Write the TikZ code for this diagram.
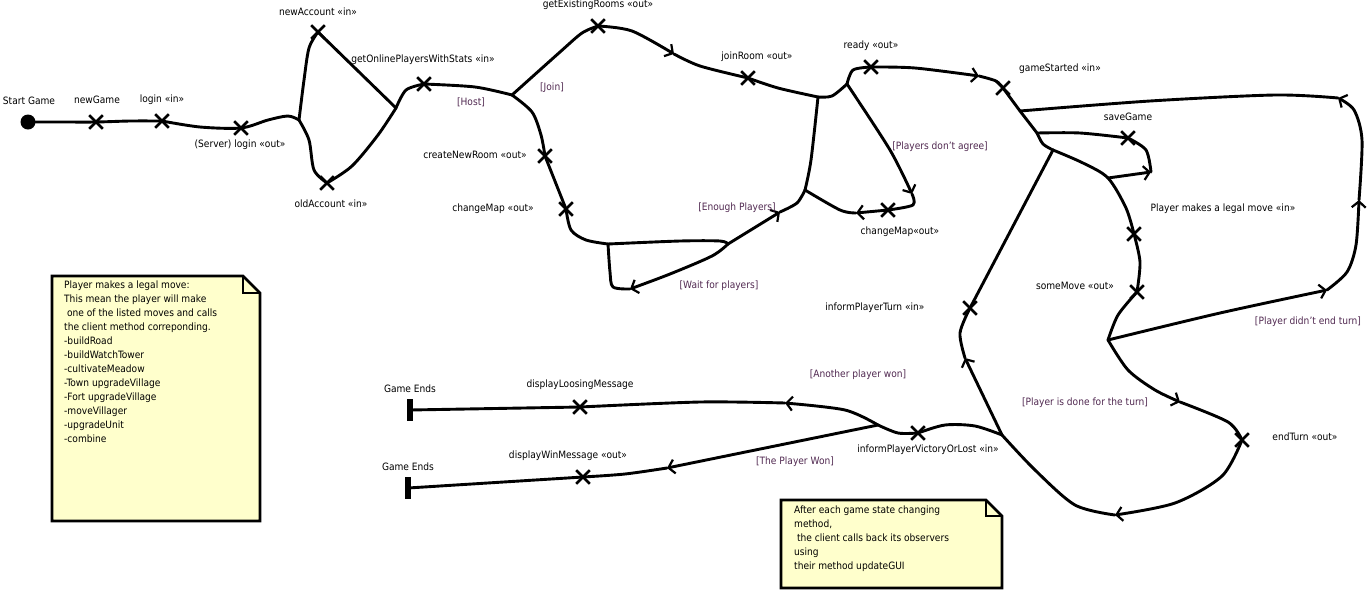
\documentclass[tikz,border=0pt]{standalone}
\usepackage{fontspec}
\setmainfont{DejaVu Sans Condensed}
\usetikzlibrary{arrows.meta,shapes.misc}
\definecolor{guardcol}{RGB}{80,40,80}
\definecolor{notecol}{RGB}{255,255,204}
\tikzset{
  flow/.style={line width=2.9pt, line join=round, line cap=round},
  arr/.style={flow, -{Straight Barb[length=6pt,width=14pt,line width=2.2pt]}},
  crossmark/.style={draw, cross out, line width=2.6pt, minimum size=11pt, inner sep=0pt},
  method/.style={font=\fontsize{10.1}{12}\selectfont, inner sep=0pt},
  guard/.style={method, text=guardcol},
  note/.style={draw, line width=2.6pt, fill=notecol},
  notetext/.style={align=left, anchor=north west, inner sep=0pt, font=\fontsize{10.1}{14}\selectfont}
}
\begin{document}
\begin{tikzpicture}[x=1pt,y=-1pt]
\useasboundingbox (0,0) rectangle (1370,590);
% points of the flow
\coordinate (start) at (28,122);
\coordinate (newGame) at (96,122);
\coordinate (login) at (162,121);
\coordinate (srvLogin) at (241,128);
\coordinate (j1) at (299,120);
\coordinate (newAcc) at (318,32);
\coordinate (oldAcc) at (327,183);
\coordinate (j2) at (396,108);
\coordinate (onlinePl) at (424,84);
\coordinate (j3) at (512,95);
\coordinate (newRoom) at (545,156);
\coordinate (mapHost) at (566,209);
\coordinate (lowL) at (608,244);
\coordinate (lowR) at (728,244);
\coordinate (arrWait) at (630,289);
\coordinate (arrEnough) at (780,212);
\coordinate (j5) at (805,190);
\coordinate (exRooms) at (598,26);
\coordinate (arrJoin) at (674,54);
\coordinate (joinRoom) at (748,78);
\coordinate (j4) at (818,97);
\coordinate (j4b) at (847,84);
\coordinate (ready) at (871,67);
\coordinate (arrStart) at (979,76);
\coordinate (gameStarted) at (1003,88);
\coordinate (arrAgree) at (912,194);
\coordinate (mapAgree) at (888,210);
\coordinate (arrMapAgree) at (856,213);
\coordinate (j7) at (1020,111);
\coordinate (j8) at (1037,133);
\coordinate (j9) at (1053,150);
\coordinate (j10) at (1108,178);
\coordinate (saveGame) at (1128,138);
\coordinate (arrSave) at (1151,172);
\coordinate (legalMove) at (1134,234);
\coordinate (someMove) at (1137,292);
\coordinate (j11) at (1108,340);
\coordinate (arrRight) at (1327,290);
\coordinate (arrUp) at (1359,200);
\coordinate (arrLeft) at (1338,98);
\coordinate (arrDone) at (1180,402);
\coordinate (endTurn) at (1242,440);
\coordinate (arrBottom) at (1115,515);
\coordinate (j12) at (1002,435);
\coordinate (arrTurn) at (965,358);
\coordinate (informTurn) at (970,308);
\coordinate (informVic) at (918,433);
\coordinate (j13) at (878,425);
\coordinate (arrLost) at (785,403);
\coordinate (lostMsg) at (580,407);
\coordinate (endLost) at (410,410);
\coordinate (arrWon) at (667,468);
\coordinate (wonMsg) at (583,477);
\coordinate (endWon) at (408,488);

% login and lobby
\draw[flow] plot[smooth] coordinates {(start) (60,122) (newGame) (130,121) (login)};
\draw[flow] plot[smooth] coordinates {(login) (200,127) (srvLogin) (268,120) (288,116) (j1)};
\draw[flow] plot[smooth] coordinates {(j1) (304,80) (309,48) (newAcc)};
\draw[flow] (newAcc) -- (j2);
\draw[flow] plot[smooth] coordinates {(j1) (309,140) (314,170) (oldAcc)};
\draw[flow] plot[smooth] coordinates {(oldAcc) (352,166) (378,135) (j2)};
\draw[flow] plot[smooth] coordinates {(j2) (406,90) (onlinePl)};
\draw[flow] plot[smooth] coordinates {(onlinePl) (475,87) (j3)};
\draw[flow] plot[smooth] coordinates {(j3) (532,112) (541,135) (newRoom)};
\draw[flow] (newRoom) -- (mapHost);
\draw[flow] plot[smooth] coordinates {(mapHost) (571,230) (586,240) (lowL)};
\draw[flow] plot[smooth] coordinates {(lowL) (680,241) (720,241) (lowR)};
\draw[arr] plot[smooth] coordinates {(lowR) (712,256) (670,274) (arrWait)};
\draw[flow] plot[smooth] coordinates {(arrWait) (613,287) (610,272) (lowL)};
\draw[arr] (lowR) -- (arrEnough);
\draw[flow] plot[smooth] coordinates {(arrEnough) (797,203) (j5)};
\draw[flow] plot[smooth] coordinates {(j4) (811,160) (j5)};
\draw[flow] plot[smooth] coordinates {(j3) (560,52) (582,33) (exRooms)};
\draw[arr] plot[smooth] coordinates {(exRooms) (632,31) (arrJoin)};
\draw[flow] plot[smooth] coordinates {(arrJoin) (700,66) (joinRoom)};
\draw[flow] plot[smooth] coordinates {(joinRoom) (778,88) (j4)};
\draw[flow] plot[smooth] coordinates {(j4) (832,96) (j4b)};
\draw[flow] plot[smooth] coordinates {(j4b) (853,70) (ready)};
\draw[arr] plot[smooth] coordinates {(ready) (915,68) (arrStart)};
\draw[flow] plot[smooth] coordinates {(arrStart) (996,81) (gameStarted)};
\draw[arr] plot[smooth] coordinates {(j4b) (890,150) (arrAgree)};
\draw[flow] plot[smooth] coordinates {(arrAgree) (913,205) (mapAgree)};
\draw[arr] (mapAgree) -- (arrMapAgree);
\draw[flow] plot[smooth] coordinates {(arrMapAgree) (840,210) (j5)};

% game loop
\draw[flow] (gameStarted) -- (j7) -- (j8);
\draw[flow] plot[smooth] coordinates {(j8) (1043,144) (j9)};
\draw[flow] plot[smooth] coordinates {(j9) (1083,163) (j10) (1126,208) (legalMove)};
\draw[flow] plot[smooth] coordinates {(legalMove) (1140,262) (someMove)};
\draw[flow] plot[smooth] coordinates {(someMove) (1118,315) (j11)};
\draw[arr] plot[smooth] coordinates {(j11) (1220,313) (arrRight)};
\draw[arr] plot[smooth] coordinates {(arrRight) (1347,272) (1356,245) (arrUp)};
\draw[arr] plot[smooth] coordinates {(arrUp) (1362,140) (1354,110) (arrLeft)};
\draw[flow] plot[smooth] coordinates {(arrLeft) (1275,95) (1150,101) (j7)};
\draw[flow] plot[smooth] coordinates {(j8) (1080,133) (saveGame)};
\draw[flow] plot[smooth] coordinates {(saveGame) (1146,150) (arrSave)};
\draw[arr] (j10) -- (arrSave);
\draw[arr] plot[smooth] coordinates {(j11) (1128,370) (1155,390) (arrDone)};
\draw[flow] plot[smooth] coordinates {(arrDone) (1228,422) (endTurn)};
\draw[arr] plot[smooth] coordinates {(endTurn) (1222,476) (1175,503) (arrBottom)};
\draw[flow] plot[smooth] coordinates {(arrBottom) (1075,505) (1035,470) (j12)};
\draw[flow] plot[smooth] coordinates {(j12) (975,426) (945,425) (informVic)};
\draw[arr] (j12) -- (arrTurn);
\draw[flow] plot[smooth] coordinates {(arrTurn) (960,333) (informTurn)};
\draw[flow] (informTurn) -- (j9);

% end of game
\draw[flow] plot[smooth] coordinates {(informVic) (898,433) (j13)};
\draw[arr] plot[smooth] coordinates {(j13) (845,410) (arrLost)};
\draw[flow] plot[smooth] coordinates {(arrLost) (700,402) (lostMsg)};
\draw[flow] (lostMsg) -- (endLost);
\draw[arr] (j13) -- (arrWon);
\draw[flow] plot[smooth] coordinates {(arrWon) (625,474) (wonMsg)};
\draw[flow] (wonMsg) -- (endWon);

% states
\node[fill, circle, minimum size=15pt, inner sep=0pt] (startDot) at (start) {};
\node[fill, minimum width=6pt, minimum height=22pt, inner sep=0pt] (barLost) at (endLost) {};
\node[fill, minimum width=6pt, minimum height=22pt, inner sep=0pt] (barWon) at (endWon) {};
\foreach \p in {newGame,login,srvLogin,newAcc,oldAcc,onlinePl,newRoom,mapHost,exRooms,joinRoom,ready,gameStarted,mapAgree,saveGame,legalMove,someMove,endTurn,informTurn,informVic,lostMsg,wonMsg}
  \node[crossmark] (x-\p) at (\p) {};

% labels
\node[method] (lStart) at (29,101) {Start Game};
\node[method] (lNewGame) at (97,100) {newGame};
\node[method] (lLogin) at (162,100) {login «in»};
\node[method] (lSrvLogin) at (240,145) {(Server) login «out»};
\node[method] (lNewAcc) at (318,12) {newAccount «in»};
\node[method] (lOldAcc) at (331,204) {oldAccount «in»};
\node[method] (lOnline) at (423,60) {getOnlinePlayersWithStats «in»};
\node[guard] (lHost) at (471,102) {[Host]};
\node[guard] (lJoin) at (552,88) {[Join]};
\node[method] (lExRooms) at (598,5) {getExistingRooms «out»};
\node[method] (lJoinRoom) at (757,57) {joinRoom «out»};
\node[method] (lNewRoom) at (475,155) {createNewRoom «out»};
\node[method] (lMapHost) at (493,209) {changeMap «out»};
\node[guard] (lEnough) at (737,208) {[Enough Players]};
\node[guard] (lWait) at (719,286) {[Wait for players]};
\node[method] (lReady) at (871,46) {ready «out»};
\node[method] (lStarted) at (1060,69) {gameStarted «in»};
\node[guard] (lAgree) at (940,147) {[Players don't agree]};
\node[method] (lMapAgree) at (900,232) {changeMap«out»};
\node[method] (lSave) at (1128,117) {saveGame};
\node[method] (lLegal) at (1223,209) {Player makes a legal move «in»};
\node[method] (lSomeMove) at (1075,286) {someMove «out»};
\node[method] (lTurn) at (875,308) {informPlayerTurn «in»};
\node[guard] (lNotEnd) at (1308,322) {[Player didn't end turn]};
\node[guard] (lDone) at (1085,403) {[Player is done for the turn]};
\node[method] (lEndTurn) at (1305,437) {endTurn «out»};
\node[method] (lVic) at (928,450) {informPlayerVictoryOrLost «in»};
\node[guard] (lOther) at (858,375) {[Another player won]};
\node[guard] (lWon) at (795,462) {[The Player Won]};
\node[method] (lLostMsg) at (580,385) {displayLoosingMessage};
\node[method] (lWonMsg) at (568,456) {displayWinMessage «out»};
\node[method] (lEndLost) at (410,389) {Game Ends};
\node[method] (lEndWon) at (408,467) {Game Ends};

% notes
\draw[note] (52,276) -- (243,276) -- (260,293) -- (260,521) -- (52,521) -- cycle;
\draw[line width=2.6pt] (243,276) -- (243,293) -- (260,293);
\node[notetext] (moveNote) at (64,281) {Player makes a legal move:\\
This mean the player will make\\
\ one of the listed moves and calls\\
the client method correponding.\\
-buildRoad\\
-buildWatchTower\\
-cultivateMeadow\\
-Town upgradeVillage\\
-Fort upgradeVillage\\
-moveVillager\\
-upgradeUnit\\
-combine};
\draw[note] (781,500) -- (986,500) -- (1002,516) -- (1002,588) -- (781,588) -- cycle;
\draw[line width=2.6pt] (986,500) -- (986,516) -- (1002,516);
\node[notetext] (guiNote) at (794,506) {After each game state changing\\
method,\\
\ the client calls back its observers\\
using\\
their method updateGUI};
\end{tikzpicture}
\end{document}
